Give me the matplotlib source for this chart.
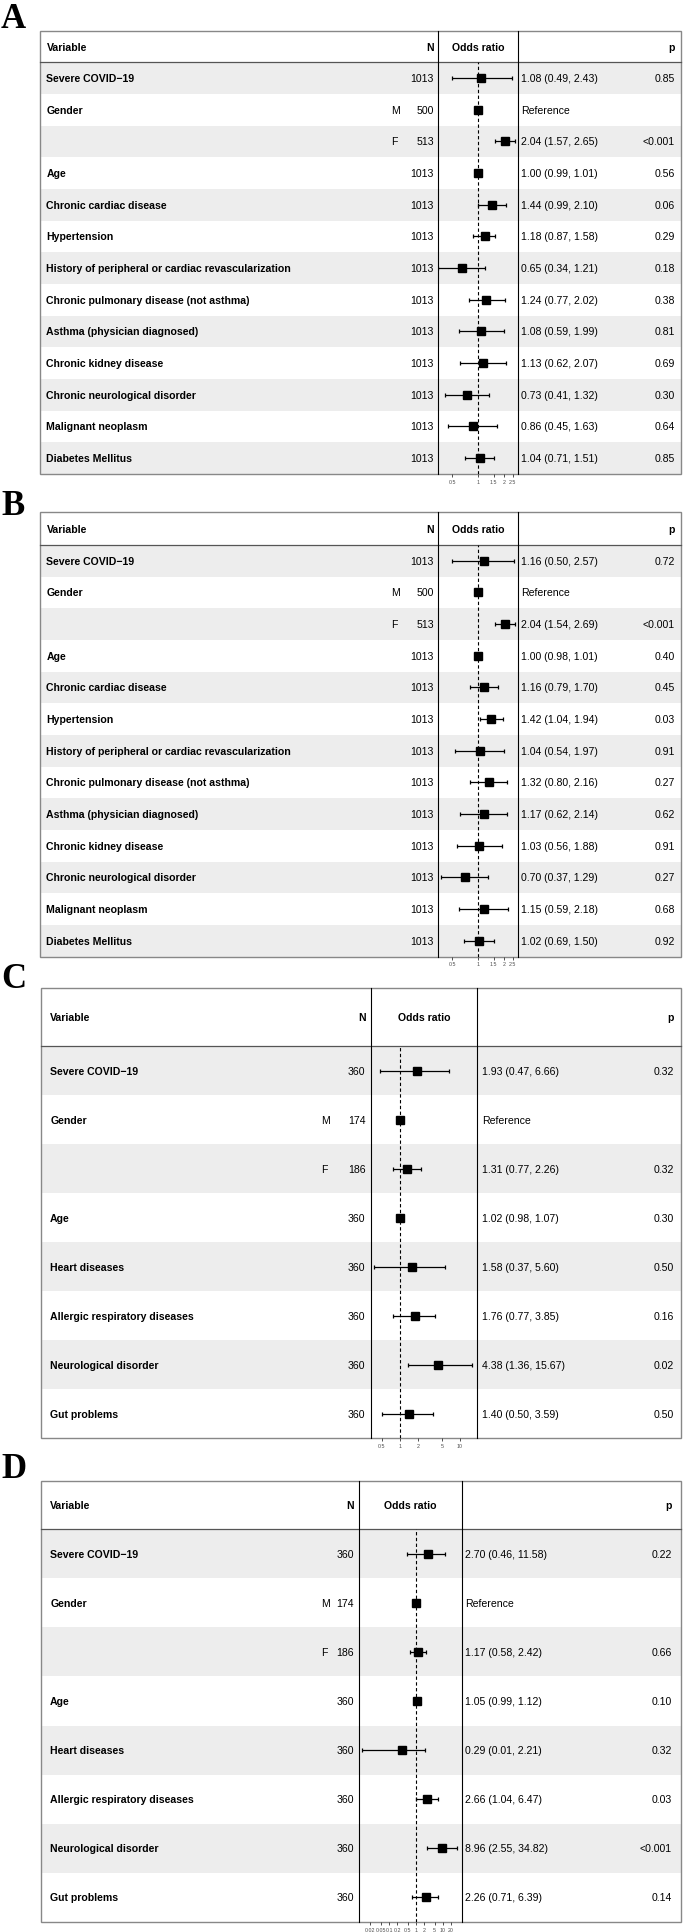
import numpy as np
import matplotlib.pyplot as plt
from matplotlib.patches import Rectangle
from matplotlib.ticker import NullLocator

plt.rcParams['font.family'] = ['Liberation Sans', 'DejaVu Sans']

W, H = 685, 1933
MINUS = '\u2212'

# ---- data: panels A and B (n = 1013) ----
vars_ab = ['Severe COVID' + MINUS + '19', 'Gender', '', 'Age', 'Chronic cardiac disease',
           'Hypertension', 'History of peripheral or cardiac revascularization',
           'Chronic pulmonary disease (not asthma)', 'Asthma (physician diagnosed)',
           'Chronic kidney disease', 'Chronic neurological disorder',
           'Malignant neoplasm', 'Diabetes Mellitus']
levels_ab = ['', 'M', 'F', '', '', '', '', '', '', '', '', '', '']
n_ab = [1013, 500, 513, 1013, 1013, 1013, 1013, 1013, 1013, 1013, 1013, 1013, 1013]

or_a = [1.08, 1.00, 2.04, 1.00, 1.44, 1.18, 0.65, 1.24, 1.08, 1.13, 0.73, 0.86, 1.04]
lo_a = [0.49, np.nan, 1.57, 0.99, 0.99, 0.87, 0.34, 0.77, 0.59, 0.62, 0.41, 0.45, 0.71]
hi_a = [2.43, np.nan, 2.65, 1.01, 2.10, 1.58, 1.21, 2.02, 1.99, 2.07, 1.32, 1.63, 1.51]
p_a = ['0.85', '', '<0.001', '0.56', '0.06', '0.29', '0.18', '0.38', '0.81', '0.69', '0.30', '0.64', '0.85']

or_b = [1.16, 1.00, 2.04, 1.00, 1.16, 1.42, 1.04, 1.32, 1.17, 1.03, 0.70, 1.15, 1.02]
lo_b = [0.50, np.nan, 1.54, 0.98, 0.79, 1.04, 0.54, 0.80, 0.62, 0.56, 0.37, 0.59, 0.69]
hi_b = [2.57, np.nan, 2.69, 1.01, 1.70, 1.94, 1.97, 2.16, 2.14, 1.88, 1.29, 2.18, 1.50]
p_b = ['0.72', '', '<0.001', '0.40', '0.45', '0.03', '0.91', '0.27', '0.62', '0.91', '0.27', '0.68', '0.92']

# ---- data: panels C and D (n = 360) ----
vars_cd = ['Severe COVID' + MINUS + '19', 'Gender', '', 'Age', 'Heart diseases',
           'Allergic respiratory diseases', 'Neurological disorder', 'Gut problems']
levels_cd = ['', 'M', 'F', '', '', '', '', '']
n_cd = [360, 174, 186, 360, 360, 360, 360, 360]

or_c = [1.93, 1.00, 1.31, 1.02, 1.58, 1.76, 4.38, 1.40]
lo_c = [0.47, np.nan, 0.77, 0.98, 0.37, 0.77, 1.36, 0.50]
hi_c = [6.66, np.nan, 2.26, 1.07, 5.60, 3.85, 15.67, 3.59]
p_c = ['0.32', '', '0.32', '0.30', '0.50', '0.16', '0.02', '0.50']

or_d = [2.70, 1.00, 1.17, 1.05, 0.29, 2.66, 8.96, 2.26]
lo_d = [0.46, np.nan, 0.58, 0.99, 0.01, 1.04, 2.55, 0.71]
hi_d = [11.58, np.nan, 2.42, 1.12, 2.21, 6.47, 34.82, 6.39]
p_d = ['0.22', '', '0.66', '0.10', '0.32', '0.03', '<0.001', '0.14']

ticks_ab = [0.5, 1, 1.5, 2, 2.5]
ticks_c = [0.5, 1, 2, 5, 10]
ticks_d = [0.02, 0.05, 0.1, 0.2, 0.5, 1, 2, 5, 10, 20]

# ---- layout (pixels) ----
geo_ab = dict(left=40.5, ndiv=438, ordiv=518, right=681, pad=6, lvl=391, nx=434,
              est=521, px=675, xlim=(0.341, 2.88))
geo_c = dict(left=40.7, ndiv=371.4, ordiv=477.4, right=681, pad=9.5, lvl=321, nx=365.5,
             est=482, px=674, xlim=(0.334, 19.5))
geo_d = dict(left=40.7, ndiv=359, ordiv=462, right=681, pad=9.5, lvl=321, nx=354,
             est=465, px=672, xlim=(0.0075, 51.8))

FS = 7.6
GRAY_ROW = '#EDEDED'


def px_rect(x0, y0, x1, y1):
    return [x0 / W, 1 - y1 / H, (x1 - x0) / W, (y1 - y0) / H]


def fmt_tick(t):
    return ('%g' % t)


def draw_panel(fig, base, letter, letter_y, top, head, bottom, g,
               variables, levels, ns, orr, lo, hi, pvals, ticks):
    n = len(variables)
    rh = (bottom - head) / n
    base.text(1, letter_y, letter, family='Liberation Serif', fontweight='bold',
              fontsize=25, ha='left', va='baseline')

    # row shading
    for i in range(n):
        if i % 2 == 0:
            base.add_patch(Rectangle((g['left'], head + i * rh), g['right'] - g['left'], rh,
                                     facecolor=GRAY_ROW, edgecolor='none', zorder=0))
    # frame, dividers
    base.add_patch(Rectangle((g['left'], top), g['right'] - g['left'], bottom - top,
                             facecolor='none', edgecolor='#888888', lw=1.0, zorder=3))
    base.plot([g['left'], g['right']], [head, head], color='#555555', lw=0.9, zorder=3)
    for xd in (g['ndiv'], g['ordiv']):
        base.plot([xd, xd], [top, bottom], color='black', lw=0.8, zorder=3)

    # header
    hy = (top + head) / 2
    base.text(g['left'] + g['pad'], hy, 'Variable', fontsize=FS, fontweight='bold', va='center')
    base.text(g['nx'], hy, 'N', fontsize=FS, fontweight='bold', va='center', ha='right')
    base.text((g['ndiv'] + g['ordiv']) / 2, hy, 'Odds ratio', fontsize=FS, fontweight='bold',
              va='center', ha='center')
    base.text(g['px'], hy, 'p', fontsize=FS, fontweight='bold', va='center', ha='right')

    # body text
    for i in range(n):
        y = head + (i + 0.5) * rh
        base.text(g['left'] + g['pad'], y, variables[i], fontsize=FS, fontweight='bold', va='center')
        if levels[i]:
            base.text(g['lvl'], y, levels[i], fontsize=FS, va='center')
        base.text(g['nx'], y, str(ns[i]), fontsize=FS, va='center', ha='right')
        if np.isnan(lo[i]):
            est = 'Reference'
        else:
            est = '%.2f (%.2f, %.2f)' % (orr[i], lo[i], hi[i])
        base.text(g['est'], y, est, fontsize=FS, va='center')
        base.text(g['px'], y, pvals[i], fontsize=FS, va='center', ha='right')

    # forest
    ax = fig.add_axes(px_rect(g['ndiv'], head, g['ordiv'], bottom))
    ax.patch.set_visible(False)
    for s in ax.spines.values():
        s.set_visible(False)
    ax.set_xscale('log')
    ax.set_xlim(*g['xlim'])
    ax.set_ylim(n, 0)
    orr = np.array(orr)
    lo = np.array(lo)
    hi = np.array(hi)
    yy = np.arange(n) + 0.5
    ax.axvline(1, color='black', lw=0.8, ls=(0, (3, 2.2)), zorder=1)
    m = ~np.isnan(lo)
    ax.errorbar(orr[m], yy[m], xerr=[orr[m] - lo[m], hi[m] - orr[m]], fmt='none',
                ecolor='black', elinewidth=0.9, capsize=1.7, capthick=0.9, zorder=2)
    ax.plot(orr, yy, 's', color='black', ms=6.3, zorder=3)
    ax.set_yticks([])
    ax.set_xticks(ticks)
    ax.set_xticklabels([fmt_tick(t) for t in ticks])
    ax.xaxis.set_minor_locator(NullLocator())
    ax.tick_params(axis='x', length=2.5, width=0.6, color='#333333', labelsize=3.8,
                   labelcolor='#4D4D4D', pad=1.0)
    return ax


fig = plt.figure(figsize=(W / 100, H / 100), dpi=100)
base = fig.add_axes([0, 0, 1, 1])
base.set_xlim(0, W)
base.set_ylim(H, 0)
base.axis('off')

draw_panel(fig, base, 'A', 28, 32, 63.3, 475, geo_ab, vars_ab, levels_ab, n_ab,
           or_a, lo_a, hi_a, p_a, ticks_ab)
draw_panel(fig, base, 'B', 515, 513.3, 546, 957.5, geo_ab, vars_ab, levels_ab, n_ab,
           or_b, lo_b, hi_b, p_b, ticks_ab)
draw_panel(fig, base, 'C', 988, 989.3, 1047.3, 1439.3, geo_c, vars_cd, levels_cd, n_cd,
           or_c, lo_c, hi_c, p_c, ticks_c)
draw_panel(fig, base, 'D', 1478, 1481.7, 1530, 1923, geo_d, vars_cd, levels_cd, n_cd,
           or_d, lo_d, hi_d, p_d, ticks_d)

fig.savefig('out.png', dpi=100)
